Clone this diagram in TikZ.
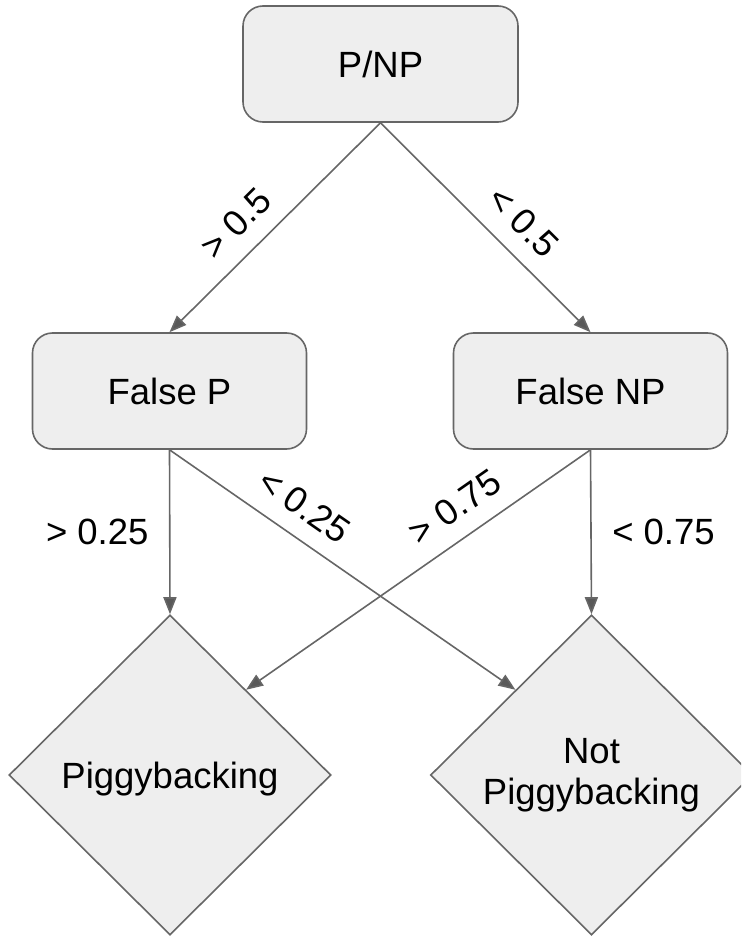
\documentclass[tikz,border=0pt]{standalone}
\usepackage{fontspec}
\setmainfont{Liberation Sans}
\usetikzlibrary{shapes.geometric,arrows.meta,calc}
\definecolor{edgegray}{HTML}{666666}
\definecolor{tipgray}{HTML}{595959}
\definecolor{boxfill}{HTML}{EEEEEE}
\begin{document}
\begin{tikzpicture}[
  x=1pt, y=1pt,
  font=\fontsize{36.5pt}{41pt}\selectfont,
  procbox/.style={rectangle, rounded corners=20pt, draw=edgegray, fill=boxfill,
    line width=1.6pt, minimum width=274pt, minimum height=116pt, inner sep=0pt},
  decision/.style={diamond, draw=edgegray, fill=boxfill, line width=1.6pt,
    minimum width=322pt, minimum height=320pt, inner sep=0pt},
  conn/.style={draw=edgegray, line width=1.6pt,
    -{Triangle[length=17pt,width=13pt,fill=tipgray]}},
  lbl/.style={inner sep=0pt, text=black},
]
\useasboundingbox (0,0) rectangle (741,-936);
\clip (0,0) rectangle (741,-936);

% decision tree nodes
\node[procbox, minimum width=275pt] (pnp) at (380.5,-64) {P/NP};
\node[procbox] (fp)  at (169.5,-391) {False P};
\node[procbox] (fnp) at (590.5,-391) {False NP};
\node[decision, text depth=0pt] (pig) at (170,-775) {Piggybacking};
\node[decision, align=center] (npig) at (591.5,-775) {Not\\Piggybacking};

% entry points on the upper edges of the diamonds
\coordinate (npigin) at ($(npig.north)!0.47!(npig.west)$);
\coordinate (pigin)  at ($(pig.north)!0.47!(pig.east)$);

% first split
\draw[conn] (pnp.south) -- node[lbl, pos=0.585, sloped, above=17pt] {> 0.5} (fp.north);
\draw[conn] (pnp.south) -- node[lbl, pos=0.577, sloped, above=17pt] {< 0.5} (fnp.north);

% second split
\draw[conn] (fp.south) -- node[lbl, midway, xshift=-72.5pt] {> 0.25} (pig.north);
\draw[conn] (fnp.south) -- node[lbl, midway, xshift=72.5pt] {< 0.75} (npig.north);
\draw[conn] (fp.south) -- node[lbl, pos=0.339, sloped, above=17pt] {< 0.25} (npigin);
\draw[conn] (fnp.south) -- node[lbl, pos=0.343, sloped, above=17pt] {> 0.75} (pigin);
\end{tikzpicture}
\end{document}
